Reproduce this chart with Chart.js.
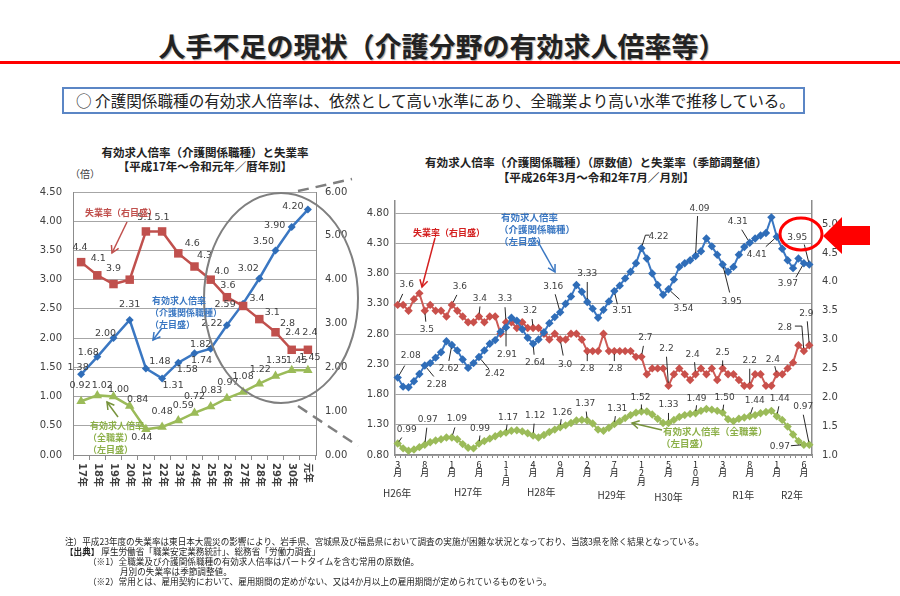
<!DOCTYPE html>
<html lang="ja"><head><meta charset="utf-8">
<script src="https://cdn.jsdelivr.net/npm/chart.js@4.4.1/dist/chart.umd.min.js"></script>
<style>
html,body{margin:0;padding:0;background:#fff;}
#page{position:relative;width:900px;height:596px;overflow:hidden;font-family:'Noto Sans CJK JP',sans-serif;color:#222;background:#fff;}
.t{position:absolute;white-space:nowrap;line-height:1;transform:translateY(-50%);}
canvas{position:absolute;}
</style></head><body><div id="page">

<div class="t" style="left:0;width:884px;text-align:center;top:45px;font-size:27px;font-weight:700;text-shadow:1px 1px 1px #aaa">人手不足の現状（介護分野の有効求人倍率等）</div>
<div style="position:absolute;left:0;top:61px;width:900px;height:3px;background:#f00"></div>
<div style="position:absolute;box-sizing:border-box;left:62px;top:87px;width:743px;height:27px;border:2px solid #5b86c5"></div>
<div class="t" style="left:76px;top:101px;font-size:15.6px">○&nbsp;介護関係職種の有効求人倍率は、依然として高い水準にあり、全職業より高い水準で推移している。</div>

<div class="t" style="left:0;width:410px;text-align:center;top:153px;font-size:11.5px;font-weight:700">有効求人倍率（介護関係職種）と失業率</div>
<div class="t" style="left:0;width:410px;text-align:center;top:167px;font-size:11.5px;font-weight:700">【平成17年～令和元年／暦年別】</div>
<div class="t" style="left:70px;top:174px;font-size:10px;color:#404040">（倍）</div>

<div class="t" style="left:0;width:1192px;text-align:center;top:163px;font-size:11.6px;font-weight:700">有効求人倍率（介護関係職種）（原数値）と失業率（季節調整値）</div>
<div class="t" style="left:0;width:1192px;text-align:center;top:178px;font-size:11.6px;font-weight:700">【平成26年3月～令和2年7月／月別】</div>

<canvas id="left" width="360" height="380" style="left:0;top:140px;width:360px;height:380px"></canvas>
<canvas id="right" width="550" height="330" style="left:350px;top:185px;width:550px;height:330px"></canvas>

<svg width="900" height="596" style="position:absolute;left:0;top:0;pointer-events:none">
 <defs>
  <marker id="hR" markerWidth="10" markerHeight="10" refX="8" refY="5" orient="auto" markerUnits="userSpaceOnUse"><path d="M1,1 L8,5 L1,9" fill="none" stroke="#C0504D" stroke-width="1.5"/></marker>
  <marker id="hR2" markerWidth="10" markerHeight="10" refX="8" refY="5" orient="auto" markerUnits="userSpaceOnUse"><path d="M1,1 L8,5 L1,9" fill="none" stroke="#d42020" stroke-width="1.5"/></marker>
  <marker id="hB" markerWidth="10" markerHeight="10" refX="8" refY="5" orient="auto" markerUnits="userSpaceOnUse"><path d="M1,1 L8,5 L1,9" fill="none" stroke="#3a77c2" stroke-width="1.5"/></marker>
  <marker id="hG" markerWidth="10" markerHeight="10" refX="8" refY="5" orient="auto" markerUnits="userSpaceOnUse"><path d="M1,1 L8,5 L1,9" fill="none" stroke="#77933c" stroke-width="1.5"/></marker>
 </defs>
 <ellipse cx="281" cy="298" rx="77" ry="105" fill="none" stroke="#7f7f7f" stroke-width="2"/>
 <line x1="298" y1="191" x2="352" y2="179" stroke="#7f7f7f" stroke-width="2.5" stroke-dasharray="11,7"/>
 <line x1="298" y1="406" x2="358" y2="446" stroke="#7f7f7f" stroke-width="2.5" stroke-dasharray="11,7"/>
 <line x1="127" y1="222" x2="112" y2="253" stroke="#C0504D" stroke-width="1.5" marker-end="url(#hR)"/>
 <line x1="162" y1="328" x2="153" y2="340" stroke="#3a77c2" stroke-width="1.5" marker-end="url(#hB)"/>
 <line x1="118" y1="417" x2="107" y2="402" stroke="#77933c" stroke-width="1.5" marker-end="url(#hG)"/>
 <line x1="435" y1="238" x2="422" y2="287" stroke="#d42020" stroke-width="1.5" marker-end="url(#hR2)"/>
 <line x1="537" y1="240" x2="555" y2="272" stroke="#3a77c2" stroke-width="1.5" marker-end="url(#hB)"/>
 <line x1="662" y1="430" x2="632" y2="423" stroke="#77933c" stroke-width="1.5" marker-end="url(#hG)"/>
 <ellipse cx="801" cy="234" rx="21" ry="16" fill="none" stroke="#f00" stroke-width="3"/>
 <polygon points="823,236 842,217 842,226 870,226 870,245 842,245 842,254" fill="#f00"/>
</svg>

<div class="t" style="left:85px;top:212px;font-size:9px;color:#C0504D;font-weight:700">失業率（右目盛）</div>
<div class="t" style="left:152px;top:300px;font-size:9px;color:#3a77c2;font-weight:700">有効求人倍率</div>
<div class="t" style="left:150px;top:312px;font-size:9px;color:#3a77c2;font-weight:700">（介護関係職種）</div>
<div class="t" style="left:150px;top:324px;font-size:9px;color:#3a77c2;font-weight:700">（左目盛）</div>
<div class="t" style="left:90px;top:425px;font-size:9px;color:#8db04a;font-weight:700">有効求人倍率</div>
<div class="t" style="left:88px;top:437px;font-size:9px;color:#8db04a;font-weight:700">（全職業）</div>
<div class="t" style="left:88px;top:449px;font-size:9px;color:#8db04a;font-weight:700">（左目盛）</div>

<div class="t" style="left:413px;top:232px;font-size:9px;color:#d42020;font-weight:700">失業率（右目盛）</div>
<div class="t" style="left:501px;top:218px;font-size:9.5px;color:#3a77c2;font-weight:700">有効求人倍率</div>
<div class="t" style="left:499px;top:230px;font-size:9.5px;color:#3a77c2;font-weight:700">（介護関係職種）</div>
<div class="t" style="left:499px;top:242px;font-size:9.5px;color:#3a77c2;font-weight:700">（左目盛）</div>
<div class="t" style="left:663px;top:432px;font-size:9.5px;color:#8db04a;font-weight:700">有効求人倍率（全職業）</div>
<div class="t" style="left:661px;top:444px;font-size:9.5px;color:#8db04a;font-weight:700">（左目盛）</div>

<div class="t" style="left:65px;top:541px;font-size:8.6px">注）平成23年度の失業率は東日本大震災の影響により、岩手県、宮城県及び福島県において調査の実施が困難な状況となっており、当該3県を除く結果となっている。</div>
<div class="t" style="left:65px;top:551px;font-size:8.6px"><b>【出典】</b> 厚生労働省「職業安定業務統計」、総務省「労働力調査」</div>
<div class="t" style="left:88px;top:561px;font-size:8.6px">（※1）全職業及び介護関係職種の有効求人倍率はパートタイムを含む常用の原数値。</div>
<div class="t" style="left:120px;top:571px;font-size:8.6px">月別の失業率は季節調整値。</div>
<div class="t" style="left:88px;top:581px;font-size:8.6px">（※2）常用とは、雇用契約において、雇用期間の定めがない、又は4か月以上の雇用期間が定められているものをいう。</div>
</div>

<script>
// ===================== DATA =====================
const LEFT_CATEGORIES = ['17年','18年','19年','20年','21年','22年','23年','24年','25年','26年','27年','28年','29年','30年','元年'];
const LEFT_CARE_RATIO = [1.38,1.68,2.00,2.31,1.48,1.31,1.58,1.74,1.82,2.22,2.59,3.02,3.50,3.90,4.20];
const LEFT_UNEMPLOYMENT = [4.4,4.1,3.9,4.0,5.1,5.1,4.6,4.3,4.0,3.6,3.4,3.1,2.8,2.4,2.4];
const LEFT_ALL_RATIO = [0.92,1.02,1.00,0.84,0.44,0.48,0.59,0.72,0.83,0.97,1.08,1.22,1.35,1.45,1.45];
const LEFT_Y_TICKS = [0,0.5,1.0,1.5,2.0,2.5,3.0,3.5,4.0,4.5];
const LEFT_Y2_TICKS = [0,1,2,3,4,5,6];

const RIGHT_MONTHS = [3,4,5,6,7,8,9,10,11,12,
  1,2,3,4,5,6,7,8,9,10,11,12,
  1,2,3,4,5,6,7,8,9,10,11,12,
  1,2,3,4,5,6,7,8,9,10,11,12,
  1,2,3,4,5,6,7,8,9,10,11,12,
  1,2,3,4,5,6,7,8,9,10,11,12,
  1,2,3,4,5,6,7];
const RIGHT_CARE_RATIO = [2.08,1.93,1.92,2.02,2.14,2.28,2.32,2.41,2.50,2.68,
  2.62,2.53,2.38,2.24,2.32,2.42,2.53,2.64,2.70,2.84,
  2.91,3.07,3.02,2.88,2.74,2.64,2.71,2.83,2.98,3.08,
  3.16,3.30,3.42,3.61,3.50,3.33,3.22,3.07,3.20,3.34,
  3.51,3.60,3.72,3.83,3.97,4.22,4.05,3.80,3.61,3.45,
  3.54,3.70,3.91,3.97,4.02,4.09,4.17,4.38,4.25,4.11,
  3.95,3.83,3.91,4.11,4.24,4.31,4.38,4.43,4.47,4.73,
  4.41,4.21,4.02,3.89,4.05,3.97,3.95];
const RIGHT_UNEMPLOYMENT = [3.6,3.6,3.5,3.7,3.8,3.5,3.6,3.5,3.5,3.4,
  3.6,3.5,3.4,3.3,3.3,3.4,3.3,3.4,3.4,3.1,3.3,3.3,
  3.2,3.3,3.2,3.2,3.2,3.1,3.0,3.1,3.0,3.0,3.1,3.1,
  3.0,2.8,2.8,2.8,3.1,2.8,2.8,2.8,2.8,2.8,2.7,2.7,
  2.4,2.5,2.5,2.5,2.2,2.4,2.5,2.4,2.3,2.4,2.5,2.4,
  2.5,2.3,2.5,2.4,2.4,2.3,2.2,2.2,2.4,2.4,2.2,2.2,
  2.4,2.4,2.5,2.6,2.9,2.8,2.9];
const RIGHT_ALL_RATIO = [0.99,0.91,0.87,0.89,0.93,0.97,1.01,1.04,1.06,1.09,
  1.09,1.06,0.98,0.92,0.91,0.99,1.03,1.07,1.11,1.15,
  1.17,1.20,1.21,1.19,1.16,1.12,1.09,1.13,1.18,1.22,
  1.26,1.29,1.33,1.37,1.38,1.37,1.32,1.22,1.20,1.25,
  1.31,1.36,1.41,1.46,1.50,1.52,1.52,1.47,1.40,1.33,
  1.33,1.38,1.43,1.46,1.48,1.49,1.53,1.56,1.55,1.53,
  1.50,1.39,1.36,1.40,1.42,1.44,1.46,1.49,1.51,1.53,
  1.44,1.38,1.27,1.14,1.03,0.97,0.97];
const RIGHT_Y_TICKS = [0.8,1.3,1.8,2.3,2.8,3.3,3.8,4.3,4.8];
const RIGHT_Y2_TICKS = [1.0,1.5,2.0,2.5,3.0,3.5,4.0,4.5,5.0];
const RIGHT_YEAR_LABELS = ['H26年','H27年','H28年','H29年','H30年','R1年','R2年'];

// ===================== STYLE / LAYOUT =====================
const BLUE = '#3a77c2', BLUE_PT = '#2f6db8', RED = '#C0504D', GREEN = '#9BBB59';
const GRID = '#a6a6a6', AXIS = '#8c8c8c', TXT = '#404040';
const NUMFONT = "'DejaVu Sans','Noto Sans CJK JP',sans-serif";
const JPFONT = "'Noto Sans CJK JP',sans-serif";
// [index, text dx, text dy]
const LEFT_LABEL_POS = {
  care: [[0,-3,-7],[1,-9,-4],[2,-8,-5],[3,0,-15],[4,14,-7],[5,11,7],[6,9,7],[7,7,7],[8,-10,-4],[9,-15,-2],[10,-18,1],[11,-11,-10],[12,-12,-9],[13,-17,-2],[14,-15,-3]],
  unemp: [[0,-1,-15],[1,1,-17],[2,0,-16],[4,-1,-14],[5,0,-14],[6,14,-10],[7,10,-11],[8,11,-8],[9,1,-12],[10,14,-7],[11,13,-7],[12,12,-9],[13,1,-17],[14,2,-17]],
  all: [[0,-1,-16],[1,5,-10],[2,5,-7],[3,8,-6],[4,-4,8],[5,0,-15],[6,5,-15],[7,0,-16],[8,1,-16],[9,1,-16],[10,0,-15],[11,1,-14],[12,1,-16],[13,5,-10],[14,2,-13]]
};
// [index, text dx, text dy, leader path offsets]
const RIGHT_LABEL_POS = {
  care: [[0,13,-22,[[7,-12]]],[5,12,19,[[9,11]]],[10,-3,24,[[-3,16]]],[15,16,17,[[10,12]]],[20,1,27,[[0,19]]],
         [25,2,19,[[1,11]]],[30,-7,-26,[[-5,-18]]],[35,0,-28,[[0,-20]]],[40,8,20,[[3,13]]],[45,17,-12,[[8,-13],[4,-13]]],
         [50,15,19,[[11,10]]],[55,4,-47,[[2,-40]]],[60,9,37,[[7,28]]],[65,-12,-21,[[-8,-13]]],[70,-20,18,[[-11,10]]],
         [75,-16,20,[[-8,14]]],[76,-12,-27,[[-5,-20]]]],
  unemp: [[0,9,-20,[[5,-11]]],[5,2,19,[[1,11]]],[10,8,-18,[[5,-10]]],[15,1,-18,[[1,-10]]],[20,-1,-24,[[-1,-15]]],
          [25,-3,-17,[[-1,-9]]],[30,5,25,[[3,16]]],[35,0,18,[[0,10]]],[40,1,18,[[0,10]]],[45,4,-19,[[2,-11]]],
          [50,-2,-37,[[-2,-29]]],[55,-3,-20,[[-1,-12]]],[60,0,-16,[[0,-8]]],[65,0,-25,[[0,-17]]],[70,-4,-15,[[-2,-8]]],
          [75,-19,-23,[[-9,-25],[-2,-25]]],[76,-3,-32,[[-2,-24]]]],
  all: [[0,9,-14,[[4,-6]]],[5,3,-25,[[2,-17]]],[10,5,-19,[[3,-10]]],[15,1,-15,[[1,-8]]],[20,2,-15,[[1,-8]]],
        [25,2,-20,[[1,-12]]],[30,2,-15,[[1,-8]]],[35,-2,-17,[[-1,-9]]],[40,3,-16,[[1,-8]]],[45,-1,-14,[[0,-7]]],
        [50,0,-18,[[0,-10]]],[55,1,-15,[[1,-8]]],[60,2,-15,[[1,-8]]],[65,5,-16,[[3,-9]]],[70,3,-18,[[2,-10]]],
        [75,-24,2,[[-13,1]]],[76,-6,-38,[[-6,-30]]]]
};
// fractional category position and page y for year labels
const RIGHT_YEAR_POS = [[-0.1,493],[13,492],[26.5,492],[39.5,495],[50,497],[63.8,495],[72.8,495]];
const RIGHT_CANVAS_TOP = 185;

// ===================== PLUGINS =====================
function makeLabelPlugin(id, sets, font) {
  return {
    id,
    afterDatasetsDraw(chart) {
      const ctx = chart.ctx;
      ctx.save();
      ctx.font = font;
      ctx.textAlign = 'center';
      ctx.textBaseline = 'middle';
      sets.forEach(set => {
        const meta = chart.getDatasetMeta(set.dataset);
        const data = chart.data.datasets[set.dataset].data;
        set.items.forEach(item => {
          const [i, dx, dy, path] = item;
          const el = meta.data[i];
          if (!el) return;
          const x = el.x, y = el.y;
          if (path && path.length) {
            const pts = path.map(p => [x + p[0], y + p[1]]);
            const last = pts[pts.length - 1];
            const vx = x - last[0], vy = y - last[1];
            const len = Math.hypot(vx, vy) || 1;
            const sh = Math.min(3, len * 0.3);
            ctx.beginPath();
            ctx.strokeStyle = '#111';
            ctx.lineWidth = 0.9;
            ctx.moveTo(pts[0][0], pts[0][1]);
            for (let k = 1; k < pts.length; k++) ctx.lineTo(pts[k][0], pts[k][1]);
            ctx.lineTo(x - vx / len * sh, y - vy / len * sh);
            ctx.stroke();
          }
          ctx.fillStyle = TXT;
          ctx.fillText(data[i].toFixed(set.digits), x + dx, y + dy);
        });
      });
      ctx.restore();
    }
  };
}

const leftXLabels = {
  id: 'leftXLabels',
  afterDraw(chart) {
    const xs = chart.scales.x, ctx = chart.ctx;
    ctx.save();
    ctx.font = "bold 10px " + NUMFONT;
    ctx.fillStyle = TXT;
    ctx.textAlign = 'left';
    ctx.textBaseline = 'middle';
    chart.data.labels.forEach((lab, i) => {
      const x = xs.getPixelForValue(i);
      ctx.save();
      ctx.translate(x, xs.top + 8);
      ctx.rotate(Math.PI / 2);
      ctx.fillText(lab, 0, 0);
      ctx.restore();
    });
    ctx.restore();
  }
};

const rightYearLabels = {
  id: 'rightYearLabels',
  afterDraw(chart) {
    const xs = chart.scales.x, ctx = chart.ctx;
    ctx.save();
    ctx.font = "10px " + JPFONT;
    ctx.fillStyle = '#333';
    ctx.textAlign = 'center';
    ctx.textBaseline = 'middle';
    RIGHT_YEAR_LABELS.forEach((lab, k) => {
      const [pos, y] = RIGHT_YEAR_POS[k];
      ctx.fillText(lab, xs.getPixelForValue(pos), y - RIGHT_CANVAS_TOP);
    });
    ctx.restore();
  }
};

Chart.defaults.font.family = NUMFONT;
Chart.defaults.color = TXT;

// ===================== LEFT CHART =====================
new Chart(document.getElementById('left'), {
  type: 'line',
  data: {
    labels: LEFT_CATEGORIES,
    datasets: [
      {label: '失業率', data: LEFT_UNEMPLOYMENT, yAxisID: 'y1', order: 0,
       borderColor: RED, backgroundColor: RED, borderWidth: 2.5,
       pointStyle: 'rect', pointRadius: 6, pointBorderWidth: 0, tension: 0},
      {label: '有効求人倍率（介護関係職種）', data: LEFT_CARE_RATIO, yAxisID: 'y', order: 1,
       borderColor: BLUE, backgroundColor: BLUE_PT, borderWidth: 2.5,
       pointStyle: 'rectRot', pointRadius: 4, pointBorderWidth: 0, tension: 0},
      {label: '有効求人倍率（全職業）', data: LEFT_ALL_RATIO, yAxisID: 'y', order: 2,
       borderColor: GREEN, backgroundColor: GREEN, borderWidth: 2.5,
       pointStyle: 'triangle', pointRadius: 5.5, pointBorderWidth: 0, tension: 0}
    ]
  },
  options: {
    responsive: false, animation: false, devicePixelRatio: 1,
    layout: {padding: {top: 52, left: 0, right: 0, bottom: 0}},
    plugins: {legend: {display: false}, tooltip: {enabled: false}},
    scales: {
      x: {
        offset: true,
        grid: {drawOnChartArea: false, drawTicks: true, tickLength: 5, color: AXIS, offset: true},
        border: {color: AXIS, width: 1},
        ticks: {display: false},
        afterFit: s => { s.height = 65; }
      },
      y: {
        position: 'left', min: 0, max: 4.5,
        afterBuildTicks: s => { s.ticks = LEFT_Y_TICKS.map(v => ({value: v})); },
        ticks: {callback: v => Number(v).toFixed(2), padding: 11, font: {size: 10}, color: TXT},
        grid: {color: GRID, lineWidth: 1, drawTicks: false},
        border: {color: AXIS, width: 1},
        afterFit: s => { s.width = 73; }
      },
      y1: {
        position: 'right', min: 0, max: 6,
        afterBuildTicks: s => { s.ticks = LEFT_Y2_TICKS.map(v => ({value: v})); },
        ticks: {callback: v => Number(v).toFixed(2), padding: 9, font: {size: 10}, color: TXT},
        grid: {drawOnChartArea: false, drawTicks: false},
        border: {color: AXIS, width: 1},
        afterFit: s => { s.width = 44; }
      }
    }
  },
  plugins: [
    makeLabelPlugin('leftLabels', [
      {dataset: 0, digits: 1, items: LEFT_LABEL_POS.unemp},
      {dataset: 1, digits: 2, items: LEFT_LABEL_POS.care},
      {dataset: 2, digits: 2, items: LEFT_LABEL_POS.all}
    ], "9.5px " + NUMFONT),
    leftXLabels
  ]
});

// ===================== RIGHT CHART =====================
new Chart(document.getElementById('right'), {
  type: 'line',
  data: {
    labels: RIGHT_MONTHS.map(String),
    datasets: [
      {label: '有効求人倍率（介護関係職種）', data: RIGHT_CARE_RATIO, yAxisID: 'y', order: 0,
       borderColor: BLUE, backgroundColor: BLUE_PT, borderWidth: 2,
       pointStyle: 'rectRot', pointRadius: 4.2, pointBorderWidth: 0, tension: 0},
      {label: '失業率', data: RIGHT_UNEMPLOYMENT, yAxisID: 'y1', order: 1,
       borderColor: '#cd5a55', backgroundColor: '#c9504b', borderWidth: 2,
       pointStyle: 'rectRot', pointRadius: 4.2, pointBorderWidth: 0, tension: 0},
      {label: '有効求人倍率（全職業）', data: RIGHT_ALL_RATIO, yAxisID: 'y', order: 2,
       borderColor: GREEN, backgroundColor: GREEN, borderWidth: 2,
       pointStyle: 'rectRot', pointRadius: 4.2, pointBorderWidth: 0, tension: 0}
    ]
  },
  options: {
    responsive: false, animation: false, devicePixelRatio: 1,
    layout: {padding: {top: 13, left: 0, right: 0, bottom: 0}},
    plugins: {legend: {display: false}, tooltip: {enabled: false}},
    scales: {
      x: {
        offset: true,
        grid: {drawOnChartArea: false, drawTicks: true, tickLength: 3, color: AXIS, offset: true},
        border: {color: AXIS, width: 1.5},
        ticks: {
          autoSkip: false, maxRotation: 0, minRotation: 0, padding: 2,
          font: {size: 9, family: JPFONT, lineHeight: 0.95}, color: '#222',
          callback: (v, i) => (i % 5 === 0 ? [...String(RIGHT_MONTHS[i]), '月'] : '')
        },
        afterFit: s => { s.height = 60; }
      },
      y: {
        position: 'left', min: 0.8, max: 5.0,
        afterBuildTicks: s => { s.ticks = RIGHT_Y_TICKS.map(v => ({value: v})); },
        ticks: {callback: v => Number(v).toFixed(2), padding: 6, font: {size: 10}, color: TXT},
        grid: {color: GRID, lineWidth: 1, drawTicks: false},
        border: {color: AXIS, width: 1.5},
        afterFit: s => { s.width = 45; }
      },
      y1: {
        position: 'right', min: 1.0, max: 5.4,
        afterBuildTicks: s => { s.ticks = RIGHT_Y2_TICKS.map(v => ({value: v})); },
        ticks: {callback: v => Number(v).toFixed(1), padding: 10, font: {size: 10}, color: TXT},
        grid: {drawOnChartArea: false, drawTicks: false},
        border: {color: AXIS, width: 1.5},
        afterFit: s => { s.width = 88; }
      }
    }
  },
  plugins: [
    makeLabelPlugin('rightLabels', [
      {dataset: 0, digits: 2, items: RIGHT_LABEL_POS.care},
      {dataset: 1, digits: 1, items: RIGHT_LABEL_POS.unemp},
      {dataset: 2, digits: 2, items: RIGHT_LABEL_POS.all}
    ], "9px " + NUMFONT),
    rightYearLabels
  ]
});
</script>
</body></html>
